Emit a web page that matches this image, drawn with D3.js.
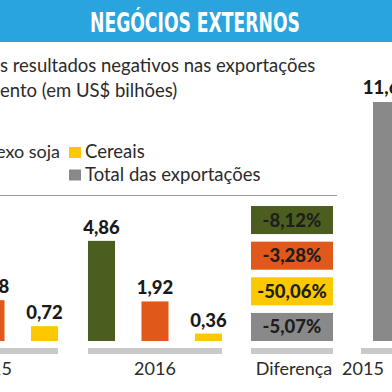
<!DOCTYPE html>
<html>
<head>
<meta charset="utf-8">
<script src="https://cdn.jsdelivr.net/npm/d3@7"></script>
<style>
  body { margin: 0; background: #fff; }
  svg { display: block; font-family: Lato, "Noto Sans", sans-serif; }
</style>
</head>
<body>
<div id="chart"></div>
<script>
// data (US$ bilhões)
var years = ["2015", "2016"];
var series = ["soja", "farelo", "cereais"];
var values2015 = [5.29, 1.98, 0.72];
var values2016 = [4.86, 1.92, 0.36];
var totals = [11.60, 11.01];
var diffLabels = ["-8,12%", "-3,28%", "-50,06%", "-5,07%"];
var legendLabels = ["Cereais", "Total das exportações"];

var W = 392, H = 392;
var colors = {soja: "#4b5e1f", farelo: "#e0581a", cereais: "#fcc800", total: "#898989"};
var fmt = function(v) { return d3.format(".2f")(v).replace(".", ","); };

var svg = d3.select("#chart")
  .append("svg")
    .attr("width", W)
    .attr("height", H);

// header band
svg.append("rect")
    .attr("x", 0).attr("y", 0)
    .attr("width", W).attr("height", 42)
    .attr("fill", "#2aa4dd");

svg.append("text")
    .attr("x", 195).attr("y", 32)
    .attr("text-anchor", "middle")
    .attr("textLength", 210)
    .attr("lengthAdjust", "spacingAndGlyphs")
    .style("font-family", "'DejaVu Sans Condensed', 'DejaVu Sans', sans-serif")
    .style("font-weight", "bold")
    .style("font-size", "26px")
    .attr("fill", "#fff")
    .text("NEGÓCIOS EXTERNOS");

// subtitle (cut at the left edge)
svg.append("text")
    .attr("x", 0).attr("y", 72)
    .style("font-size", "18.5px").attr("fill", "#2b2b2b")
    .text("s resultados negativos nas exportações");
svg.append("text")
    .attr("x", 0).attr("y", 97)
    .style("font-size", "18.5px").attr("fill", "#2b2b2b")
    .text("ento (em US$ bilhões)");

// legend
svg.append("text")
    .attr("x", -4).attr("y", 158)
    .style("font-size", "18px").attr("fill", "#2b2b2b")
    .text("exo soja");

var legend = svg.append("g").selectAll("g")
    .data(legendLabels)
    .enter().append("g")
    .attr("transform", (d, i) => "translate(69," + (147 + i * 22.5) + ")");
legend.append("rect")
    .attr("width", 12).attr("height", 11)
    .attr("fill", (d, i) => i === 0 ? colors.cereais : colors.total);
legend.append("text")
    .attr("x", 16).attr("y", 11)
    .style("font-size", "18.5px").attr("fill", "#2b2b2b")
    .text(d => d);

// separator line
svg.append("line")
    .attr("x1", 0).attr("x2", 337)
    .attr("y1", 195.5).attr("y2", 195.5)
    .attr("stroke", "#9a9a9a").attr("stroke-width", 1);

// scales
var yScale = d3.scaleLinear()
    .domain([0, 11.6])
    .range([341, 102]);

// left edge of each group
var groupX = d3.scaleOrdinal()
    .domain(["2015", "2016", "Diferença", "t2015", "t2016"])
    .range([-76, 88, 251, 361, 415]);

var xInner = d3.scaleBand()
    .domain(series)
    .range([0, 134])
    .paddingInner(0.495)
    .paddingOuter(0);

var yDiff = d3.scaleBand()
    .domain(series.concat(["total"]))
    .range([206, 341])
    .paddingInner(0.213)
    .paddingOuter(0);

// axis strips under each group
var strips = [
  {g: "2015", w: 134}, {g: "2016", w: 134}, {g: "Diferença", w: 82},
  {g: "t2015", w: 51}, {g: "t2016", w: 51}
];
svg.append("g").selectAll("rect")
    .data(strips)
    .enter().append("rect")
    .attr("x", d => groupX(d.g))
    .attr("y", 348)
    .attr("width", d => d.w)
    .attr("height", 6)
    .attr("fill", "#c9c9c9");

// grouped bars
var barData = [];
years.forEach((yr, j) => {
  var vals = j === 0 ? values2015 : values2016;
  series.forEach((s, i) => barData.push({year: yr, s: s, v: vals[i]}));
});

var bars = svg.append("g");
bars.selectAll("rect")
    .data(barData)
    .enter().append("rect")
    .attr("x", d => groupX(d.year) + xInner(d.s))
    .attr("y", d => yScale(d.v))
    .attr("width", xInner.bandwidth())
    .attr("height", d => yScale(0) - yScale(d.v))
    .attr("fill", d => colors[d.s]);

bars.selectAll("text")
    .data(barData)
    .enter().append("text")
    .attr("x", d => groupX(d.year) + xInner(d.s) + xInner.bandwidth() / 2)
    .attr("y", d => yScale(d.v) - 7)
    .attr("text-anchor", "middle")
    .style("font-size", "18.5px").style("font-weight", "900")
    .attr("fill", "#1a1a1a")
    .text(d => fmt(d.v));

// difference boxes
var diffKeys = series.concat(["total"]);
var diffs = svg.append("g");
diffs.selectAll("rect")
    .data(diffKeys)
    .enter().append("rect")
    .attr("x", groupX("Diferença"))
    .attr("y", d => yDiff(d))
    .attr("width", 82)
    .attr("height", yDiff.bandwidth())
    .attr("fill", d => colors[d]);
diffs.selectAll("text")
    .data(diffKeys)
    .enter().append("text")
    .attr("x", groupX("Diferença") + 41)
    .attr("y", d => yDiff(d) + yDiff.bandwidth() / 2 + 6.5)
    .attr("text-anchor", "middle")
    .style("font-size", "18.5px").style("font-weight", "900")
    .attr("fill", "#1e1e1e")
    .text((d, i) => diffLabels[i]);

// total export bars
var totalData = totals.map((v, i) => ({g: "t" + years[i], v: v}));
var tot = svg.append("g");
tot.selectAll("rect")
    .data(totalData)
    .enter().append("rect")
    .attr("x", d => groupX(d.g) + 12)
    .attr("y", d => yScale(d.v))
    .attr("width", 27)
    .attr("height", d => yScale(0) - yScale(d.v))
    .attr("fill", colors.total);
tot.selectAll("text")
    .data(totalData)
    .enter().append("text")
    .attr("x", d => groupX(d.g) + 25.5)
    .attr("y", d => yScale(d.v) - 8)
    .attr("text-anchor", "middle")
    .style("font-size", "18.5px").style("font-weight", "900")
    .attr("fill", "#1a1a1a")
    .text(d => fmt(d.v));

// group labels
var groupLabels = [
  {g: "2015", t: "2015", dx: 67}, {g: "2016", t: "2016", dx: 67},
  {g: "Diferença", t: "Diferença", dx: 43}, {g: "t2015", t: "2015", dx: 2},
  {g: "t2016", t: "2016", dx: 2}
];
svg.append("g").selectAll("text")
    .data(groupLabels)
    .enter().append("text")
    .attr("x", d => groupX(d.g) + d.dx)
    .attr("y", 375)
    .attr("text-anchor", "middle")
    .style("font-size", "18px")
    .attr("fill", "#2b2b2b")
    .text(d => d.t);
</script>
</body>
</html>
